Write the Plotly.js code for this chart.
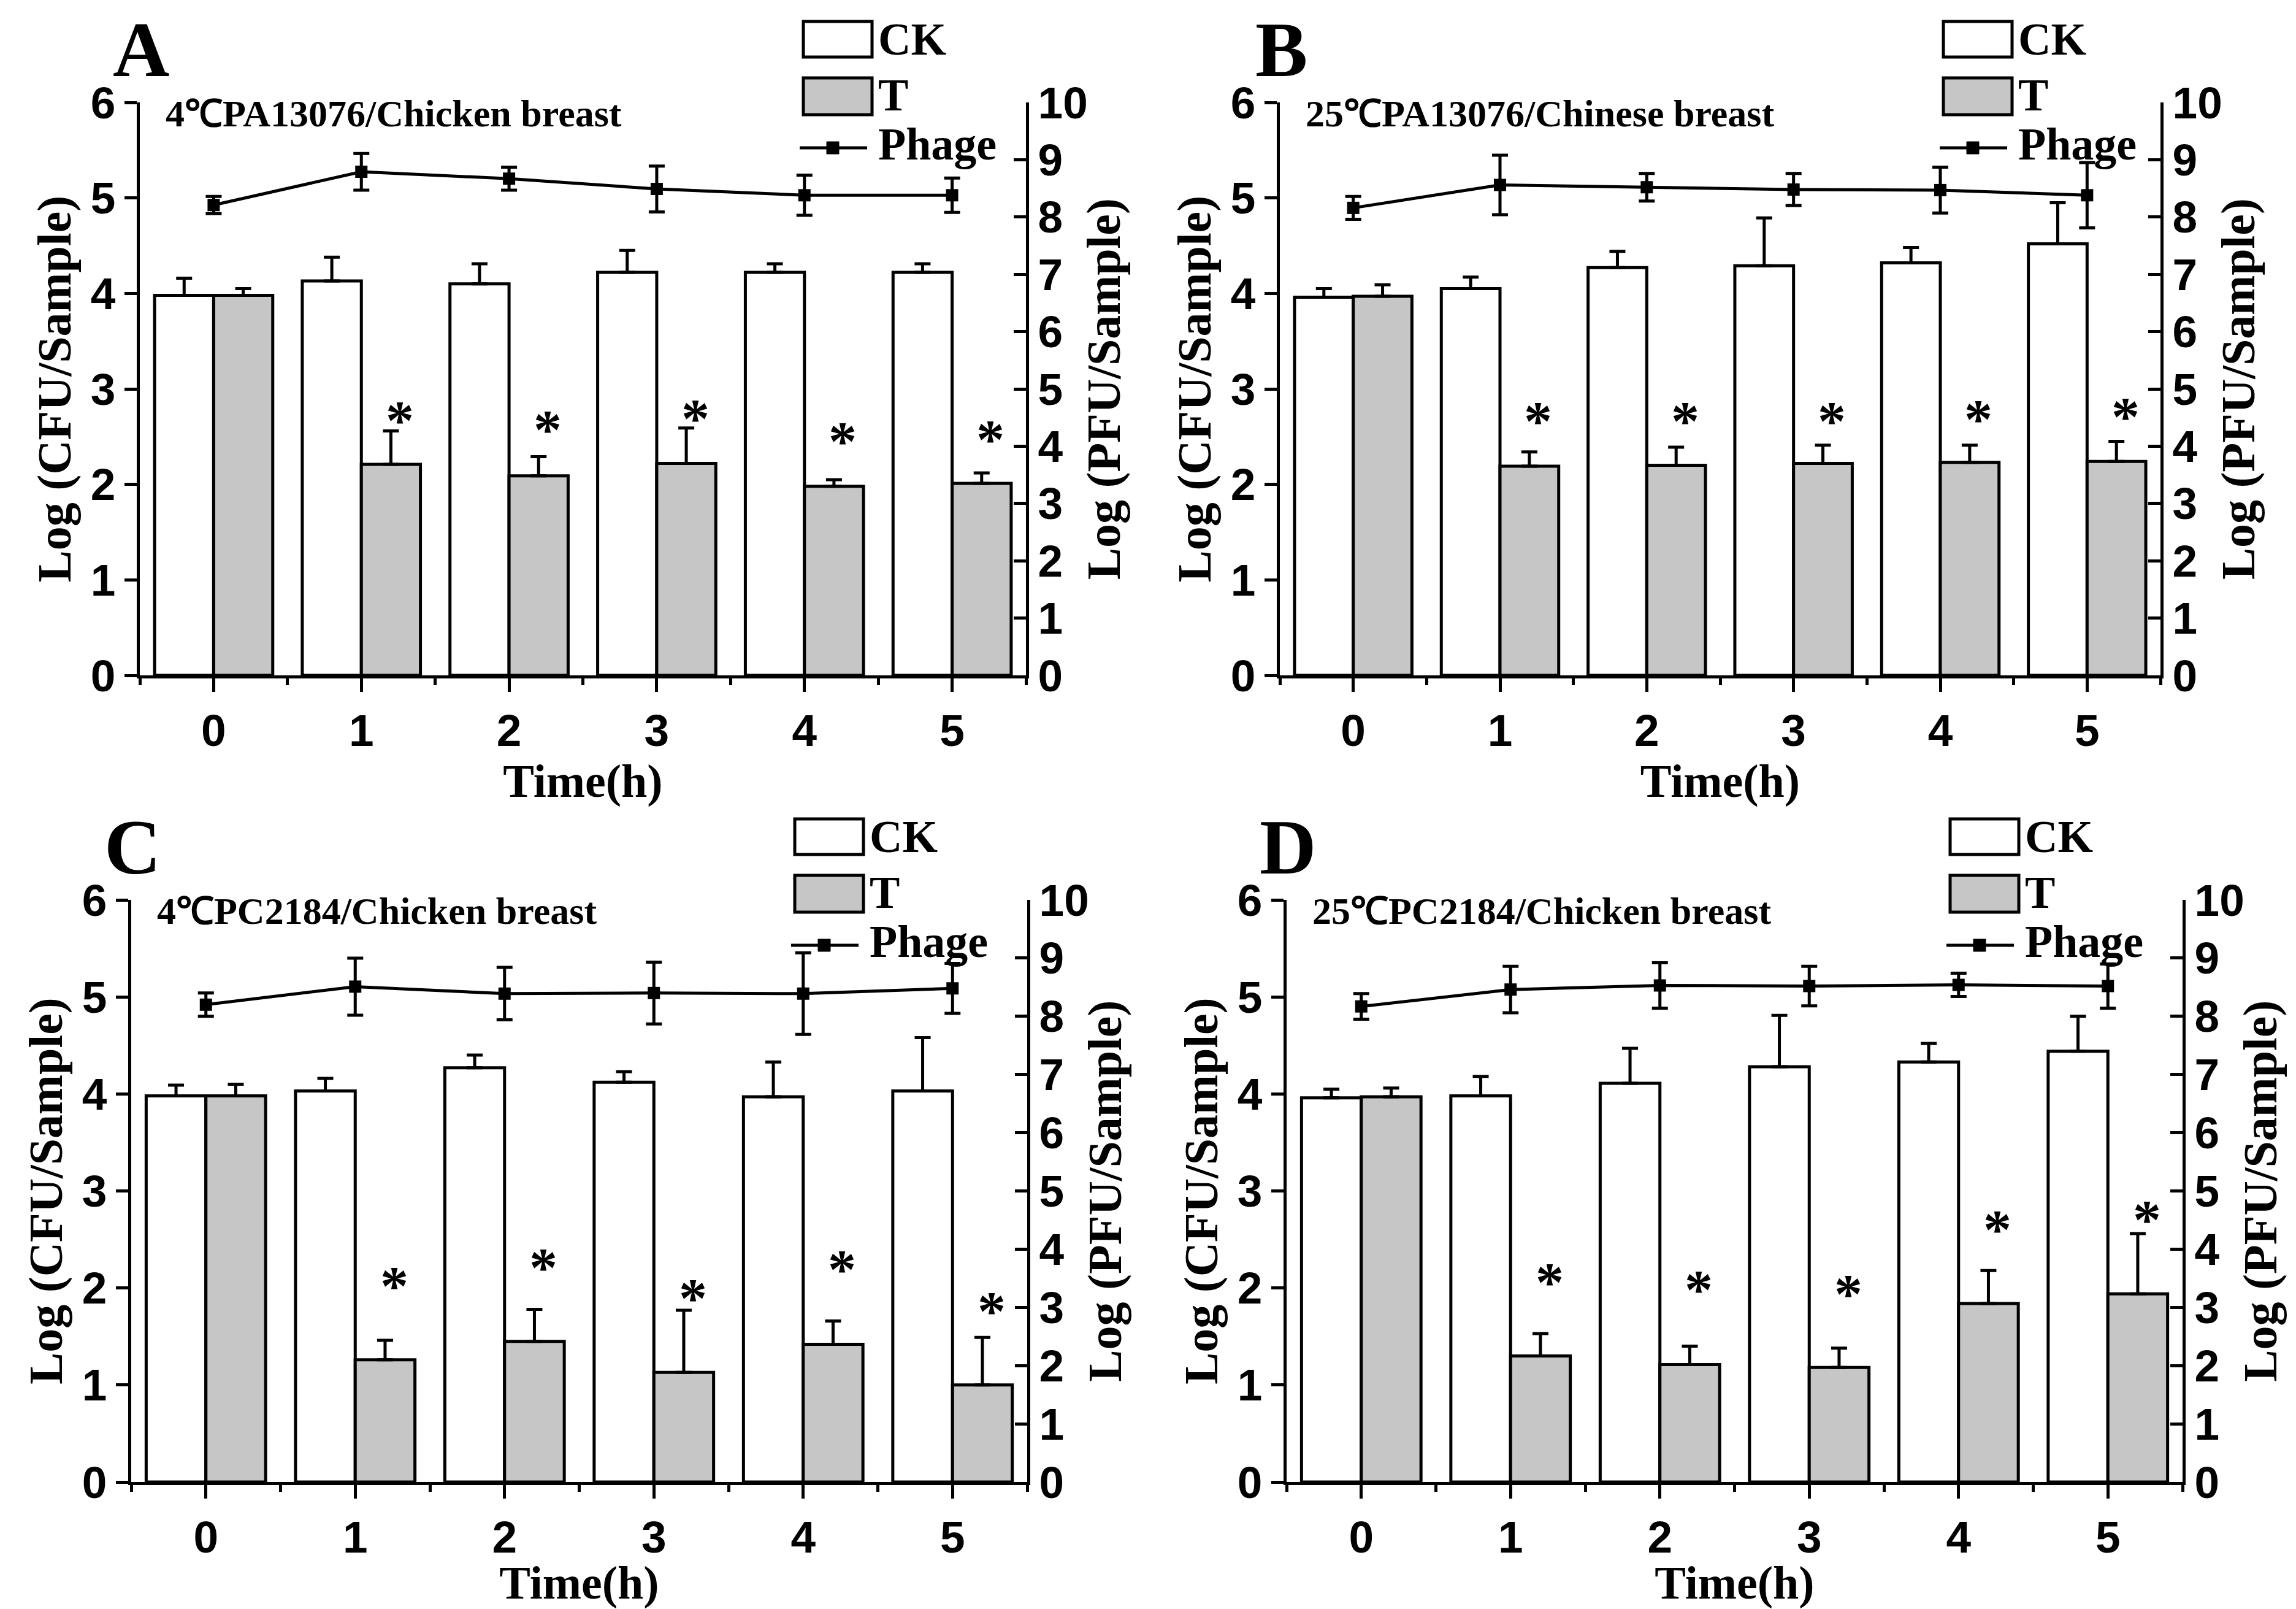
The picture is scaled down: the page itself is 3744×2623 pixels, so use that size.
<!DOCTYPE html>
<html>
<head>
<meta charset="utf-8">
<script src="https://cdn.plot.ly/plotly-3.0.1.min.js"></script>
<style>
  html, body { margin: 0; padding: 0; background: #fff; }
  #chart { width: 3744px; height: 2623px; }
</style>
</head>
<body>
<div id="chart"></div>
<script>
// sampling times (h)
var timeH = [0, 1, 2, 3, 4, 5];

// A: 4℃ PA13076 / chicken breast
var ckA = [3.98, 4.13, 4.10, 4.22, 4.22, 4.22];
var ckErrA = [0.18, 0.25, 0.21, 0.23, 0.09, 0.09];
var tA = [3.98, 2.21, 2.09, 2.22, 1.98, 2.01];
var tErrA = [0.07, 0.35, 0.20, 0.37, 0.07, 0.11];
var phageA = [8.21, 8.79, 8.67, 8.49, 8.38, 8.38];
var phageErrA = [0.15, 0.32, 0.20, 0.40, 0.35, 0.30];
var starA = [2.75, 2.65, 2.77, 2.53, 2.55];

// B: 25℃ PA13076
var ckB = [3.96, 4.05, 4.27, 4.29, 4.32, 4.52];
var ckErrB = [0.09, 0.12, 0.17, 0.50, 0.16, 0.43];
var tB = [3.97, 2.19, 2.20, 2.22, 2.23, 2.24];
var tErrB = [0.12, 0.15, 0.19, 0.19, 0.18, 0.21];
var phageB = [8.16, 8.56, 8.52, 8.48, 8.47, 8.38];
var phageErrB = [0.20, 0.52, 0.24, 0.28, 0.40, 0.57];
var starB = [2.74, 2.74, 2.74, 2.76, 2.79];

// C: 4℃ PC2184
var ckC = [3.98, 4.03, 4.27, 4.12, 3.97, 4.03];
var ckErrC = [0.11, 0.13, 0.13, 0.11, 0.36, 0.55];
var tC = [3.98, 1.26, 1.45, 1.13, 1.42, 1.00];
var tErrC = [0.12, 0.20, 0.33, 0.64, 0.24, 0.49];
var phageC = [8.20, 8.51, 8.39, 8.40, 8.39, 8.48];
var phageErrC = [0.20, 0.49, 0.45, 0.53, 0.70, 0.43];
var starC = [2.10, 2.29, 1.97, 2.27, 1.84];

// D: 25℃ PC2184
var ckD = [3.96, 3.98, 4.11, 4.28, 4.33, 4.44];
var ckErrD = [0.09, 0.20, 0.36, 0.53, 0.19, 0.36];
var tD = [3.97, 1.30, 1.21, 1.18, 1.84, 1.94];
var tErrD = [0.09, 0.23, 0.19, 0.20, 0.34, 0.62];
var phageD = [8.17, 8.46, 8.53, 8.52, 8.54, 8.52];
var phageErrD = [0.22, 0.40, 0.39, 0.34, 0.20, 0.38];
var starD = [2.14, 2.06, 2.02, 2.68, 2.78];

var panelLetters = ["A", "B", "C", "D"];
var panelLabels = [
    "4℃PA13076/Chicken breast",
    "25℃PA13076/Chinese breast",
    "4℃PC2184/Chicken breast",
    "25℃PC2184/Chicken breast"
];

var panels = [
    {ck: ckA, ckErr: ckErrA, t: tA, tErr: tErrA, phage: phageA, phageErr: phageErrA, stars: starA},
    {ck: ckB, ckErr: ckErrB, t: tB, tErr: tErrB, phage: phageB, phageErr: phageErrB, stars: starB},
    {ck: ckC, ckErr: ckErrC, t: tC, tErr: tErrC, phage: phageC, phageErr: phageErrC, stars: starC},
    {ck: ckD, ckErr: ckErrD, t: tD, tErr: tErrD, phage: phageD, phageErr: phageErrD, stars: starD}
];

// plot area boxes in pixels: [left, right, top, bottom]
var boxes = [
    [228, 1673, 167, 1101],
    [2087, 3523, 167, 1101],
    [214, 1675, 1467, 2416],
    [2098, 3559, 1467, 2416]
];

var W = 3744, H = 2623;
function px(x) { return x / W; }
function py(y) { return 1 - y / H; }

var SERIF = "Liberation Serif, Times New Roman, serif";
var SANS = "Liberation Sans Narrow, Arial Narrow, Liberation Sans, Arial, sans-serif";

var data = [];
var layout = {
    width: W,
    height: H,
    margin: {l: 0, r: 0, t: 0, b: 0},
    paper_bgcolor: "white",
    plot_bgcolor: "rgba(0,0,0,0)",
    showlegend: false,
    barmode: "group",
    bargap: 0.2,
    bargroupgap: 0,
    annotations: [],
    shapes: []
};

function axisBase() {
    return {
        showgrid: false,
        zeroline: false,
        showline: true,
        linecolor: "black",
        linewidth: 5,
        ticks: "outside",
        tickcolor: "black",
        tickwidth: 5,
        tickfont: {family: SANS, size: 73, color: "black", weight: "bold"},
        fixedrange: true
    };
}

panels.forEach(function(p, i) {
    var xa = i === 0 ? "x" : "x" + (i + 1);
    var ya = i === 0 ? "y" : "y" + (2 * i + 1);
    var ya2 = "y" + (2 * i + 2);
    var b = boxes[i];
    var zeros = p.ck.map(function() { return 0; });

    data.push({
        type: "bar", x: timeH, y: p.ck, xaxis: xa, yaxis: ya, name: "CK",
        marker: {color: "white", line: {color: "black", width: 5}},
        error_y: {type: "data", array: p.ckErr, arrayminus: zeros, symmetric: false,
                  color: "black", thickness: 5, width: 13}
    });
    data.push({
        type: "bar", x: timeH, y: p.t, xaxis: xa, yaxis: ya, name: "T",
        marker: {color: "#c6c6c6", line: {color: "black", width: 5}},
        error_y: {type: "data", array: p.tErr, arrayminus: zeros, symmetric: false,
                  color: "black", thickness: 5, width: 13}
    });
    data.push({
        type: "scatter", mode: "lines+markers", x: timeH, y: p.phage, xaxis: xa, yaxis: ya2, name: "Phage",
        line: {color: "black", width: 5},
        marker: {symbol: "square", size: 20, color: "black"},
        error_y: {type: "data", array: p.phageErr, color: "black", thickness: 5, width: 13}
    });

    var xKey = i === 0 ? "xaxis" : "xaxis" + (i + 1);
    var yKey = i === 0 ? "yaxis" : "yaxis" + (2 * i + 1);
    var y2Key = "yaxis" + (2 * i + 2);

    var xAxis = axisBase();
    Object.assign(xAxis, {
        domain: [px(b[0]), px(b[1])],
        anchor: ya,
        range: [-0.5, 5.5],
        tickvals: timeH,
        ticklen: 22,
        minor: {ticks: "outside", ticklen: 11, tickwidth: 5, tickcolor: "black", dtick: 0.5, tick0: 0},
        title: {text: "Time(h)", standoff: 4, font: {family: SERIF, size: 76, color: "black", weight: "bold"}}
    });
    layout[xKey] = xAxis;

    var yAxis = axisBase();
    Object.assign(yAxis, {
        domain: [py(b[3]), py(b[2])],
        anchor: xa,
        range: [0, 6],
        dtick: 1,
        ticklen: 20,
        title: {text: "Log (CFU/Sample)", standoff: 8, font: {family: SERIF, size: 78, color: "black", weight: "bold"}}
    });
    layout[yKey] = yAxis;

    var y2Axis = axisBase();
    Object.assign(y2Axis, {
        overlaying: ya,
        anchor: xa,
        side: "right",
        range: [0, 10],
        dtick: 1,
        ticks: "inside",
        ticklen: 20,
        title: {text: "Log (PFU/Sample)", standoff: 0, font: {family: SERIF, size: 78, color: "black", weight: "bold"}}
    });
    layout[y2Key] = y2Axis;

    // significance marks over the treated bars
    p.stars.forEach(function(s, k) {
        layout.annotations.push({
            xref: xa, yref: ya, x: timeH[k + 1] + 0.26, y: s,
            text: "*", showarrow: false, yshift: -12,
            font: {family: SERIF, size: 92, color: "black", weight: "bold"}
        });
    });

    // panel letter and subtitle
    layout.annotations.push({
        xref: "paper", yref: "paper", x: px(b[0] + 2), y: py(b[2] - 86),
        text: panelLetters[i], showarrow: false, xanchor: "center", yanchor: "middle",
        font: {family: SERIF, size: 128, color: "black", weight: "bold"}
    });
    layout.annotations.push({
        xref: "paper", yref: "paper", x: px(b[0] + 40), y: py(b[2] + 18),
        text: panelLabels[i], showarrow: false, xanchor: "left", yanchor: "middle",
        font: {family: SERIF, size: 62, color: "black", weight: "bold"}
    });

    // legend drawn by hand so the swatches keep the reference size
    var lx = b[0] + 1082, lw = 112;
    layout.shapes.push({type: "rect", xref: "paper", yref: "paper",
        x0: px(lx), x1: px(lx + lw), y0: py(b[2] - 132), y1: py(b[2] - 74),
        fillcolor: "white", line: {color: "black", width: 5}});
    layout.shapes.push({type: "rect", xref: "paper", yref: "paper",
        x0: px(lx), x1: px(lx + lw), y0: py(b[2] - 40), y1: py(b[2] + 20),
        fillcolor: "#c6c6c6", line: {color: "black", width: 5}});
    layout.shapes.push({type: "line", xref: "paper", yref: "paper",
        x0: px(lx - 6), x1: px(lx + lw - 8), y0: py(b[2] + 74), y1: py(b[2] + 74),
        line: {color: "black", width: 5}});
    layout.shapes.push({type: "rect", xref: "paper", yref: "paper",
        x0: px(lx + 38), x1: px(lx + 58), y0: py(b[2] + 64), y1: py(b[2] + 84),
        fillcolor: "black", line: {color: "black", width: 1}});
    var legendText = [["CK", b[2] - 103], ["T", b[2] - 12], ["Phage", b[2] + 68]];
    legendText.forEach(function(lt) {
        layout.annotations.push({
            xref: "paper", yref: "paper", x: px(lx + lw + 8), y: py(lt[1]),
            text: lt[0], showarrow: false, xanchor: "left", yanchor: "middle",
            font: {family: SERIF, size: 74, color: "black", weight: "bold"}
        });
    });
});

Plotly.newPlot("chart", data, layout, {staticPlot: true});
</script>
</body>
</html>
